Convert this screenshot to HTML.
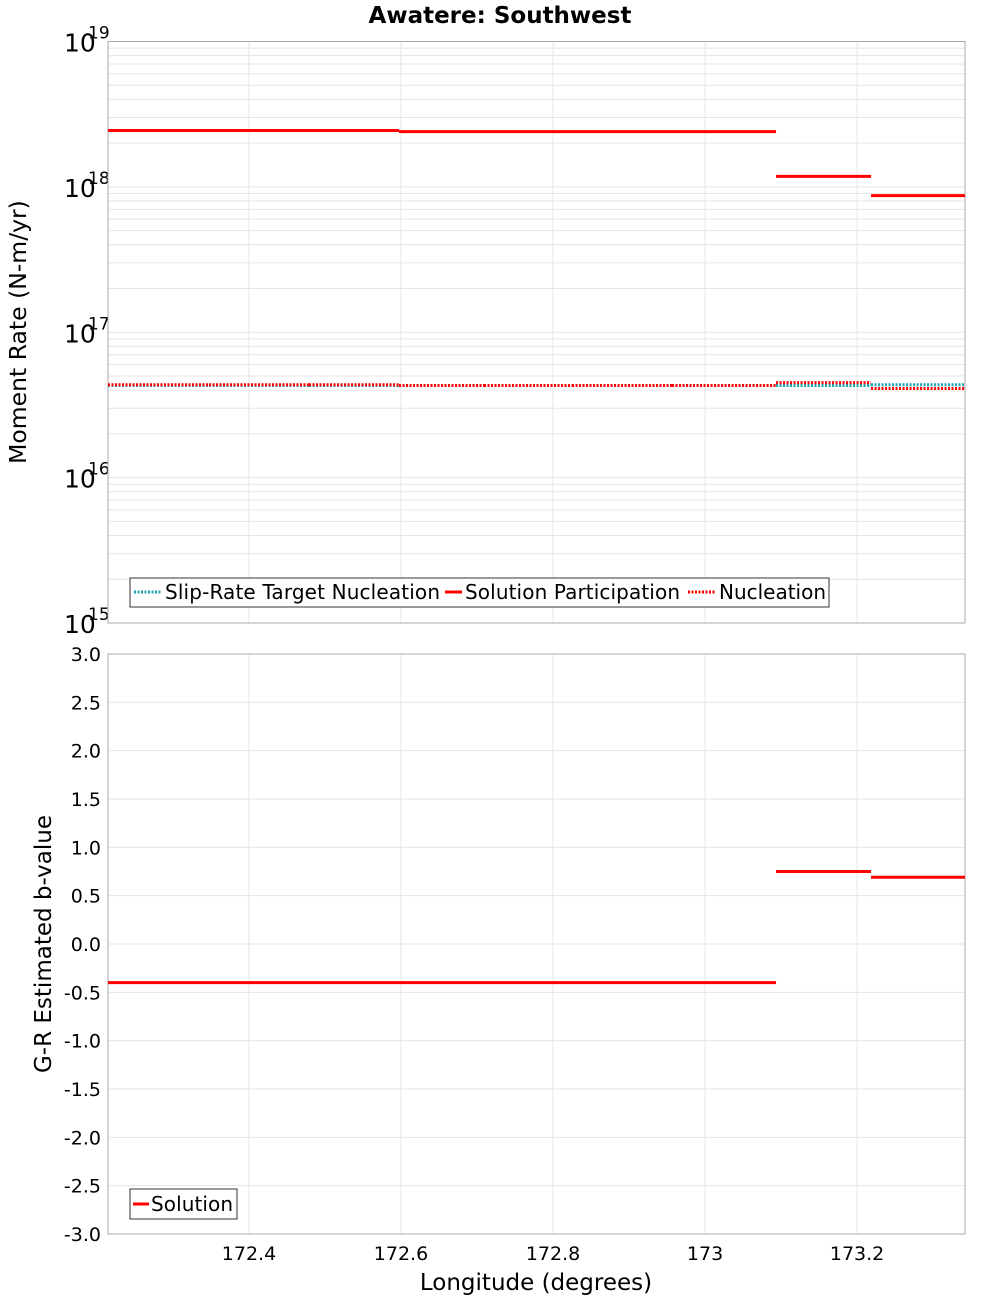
<!DOCTYPE html>
<html><head><meta charset="utf-8"><style>
body{margin:0;background:#fff;font-family:"Liberation Sans","DejaVu Sans",sans-serif}
svg text{font-family:"DejaVu Sans","Liberation Sans",sans-serif}
</style></head><body>
<svg id="c" width="1000" height="1300" xmlns="http://www.w3.org/2000/svg"></svg>
<script>
const bounds=[172.2145,172.3474,172.479,172.5974,172.7092,172.825,172.9566,173.0934,173.2184,173.342];
const participation=[2.44e18,2.44e18,2.44e18,2.4e18,2.4e18,2.4e18,2.4e18,1.18e18,8.7e17];
const nucleation=[4.35e16,4.35e16,4.35e16,4.3e16,4.3e16,4.3e16,4.3e16,4.5e16,4.1e16];
const target=[4.3e16,4.3e16,4.3e16,4.3e16,4.3e16,4.3e16,4.3e16,4.3e16,4.35e16];
const bvals=[-0.4,-0.4,-0.4,-0.4,-0.4,-0.4,-0.4,0.75,0.69];
const xTicks=[172.4,172.6,172.8,173,173.2];
const xTickLabels=["172.4","172.6","172.8","173","173.2"];
const logTicks=[15,16,17,18,19];
const bTicks=[-3,-2.5,-2,-1.5,-1,-0.5,0,0.5,1,1.5,2,2.5,3];

const NS="http://www.w3.org/2000/svg";
const svg=document.getElementById('c');
const L=108,R=965,T1=41.5,B1=623,T2=654,B2=1234;
const xs=v=>L+(v-172.2145)/(173.342-172.2145)*(R-L);
const ys1=v=>B1-(Math.log10(v)-15)/4*(B1-T1);
const ys2=v=>B2-(v+3)/6*(B2-T2);
function el(tag,a,name,txt){const e=document.createElementNS(NS,tag);for(const k in a)e.setAttribute(k,a[k]);


if(txt!==undefined)e.textContent=txt;svg.appendChild(e);return e;}

el('text',{x:500,y:23,'text-anchor':'middle','font-size':23,'font-weight':'bold'},'chart-title','Awatere: Southwest');
for(let d=15;d<19;d++)for(let m=1;m<=9;m++){const y=ys1(m*Math.pow(10,d));el('line',{x1:L,x2:R,y1:y,y2:y,stroke:'#e6e6e6','stroke-width':1},'y-gridline');}
for(const t of xTicks){el('line',{x1:xs(t),x2:xs(t),y1:T1,y2:B1,stroke:'#e6e6e6'},'x-gridline');el('line',{x1:xs(t),x2:xs(t),y1:T2,y2:B2,stroke:'#e6e6e6'},'x-gridline');}
for(const t of bTicks){el('line',{x1:L,x2:R,y1:ys2(t),y2:ys2(t),stroke:'#e6e6e6'},'y-gridline');
el('text',{x:101,y:ys2(t)+7,'text-anchor':'end','font-size':19},'y-tick-label',t.toFixed(1));}
for(const t of logTicks){const y=ys1(Math.pow(10,t));
el('text',{x:64,y:y+10,'font-size':25},'y-tick-label','10');
el('text',{x:88,y:y-3,'font-size':17},'y-tick-exponent',String(t));}
el('rect',{x:L,y:T1,width:R-L,height:B1-T1,fill:'none',stroke:'#aaa'},'plot-area-top');
el('rect',{x:L,y:T2,width:R-L,height:B2-T2,fill:'none',stroke:'#aaa'},'plot-area-bottom');
function steps(vals,ys,col,dash,name,w){let d='';for(let i=0;i<vals.length;i++){d+='M'+xs(bounds[i])+','+ys(vals[i])+'L'+xs(bounds[i+1])+','+ys(vals[i]);}
const a={d:d,fill:'none',stroke:col,'stroke-width':w||3};if(dash)a['stroke-dasharray']=dash;el('path',a,name);}
steps(target,ys1,'#1aa3b0','2,1.5','series-slip-rate-target');
steps(nucleation,ys1,'#f00','2,1.5','series-nucleation');
steps(participation,ys1,'#f00',null,'series-solution-participation');
steps(bvals,ys2,'#f00',null,'series-b-value');
for(let i=0;i<xTicks.length;i++)el('text',{x:xs(xTicks[i]),y:1260,'text-anchor':'middle','font-size':19},'x-tick-label',xTickLabels[i]);
el('text',{x:536,y:1290,'text-anchor':'middle','font-size':23},'x-axis-title','Longitude (degrees)');
el('text',{x:26,y:332,'text-anchor':'middle','font-size':23.5,transform:'rotate(-90 26 332)'},'y-axis-title-top','Moment Rate (N-m/yr)');
el('text',{x:51,y:944,'text-anchor':'middle','font-size':23,transform:'rotate(-90 51 944)'},'y-axis-title-bottom','G-R Estimated b-value');
el('rect',{x:130,y:578,width:699,height:29,fill:'#fff',stroke:'#333'},'legend-top');
el('line',{x1:134,x2:161,y1:592,y2:592,stroke:'#1aa3b0','stroke-width':3,'stroke-dasharray':'2,1.5'},'legend-swatch-target');
el('text',{x:165,y:599,'font-size':20,textLength:275},'legend-entry-target','Slip-Rate Target Nucleation');
el('line',{x1:445,x2:462,y1:592,y2:592,stroke:'#f00','stroke-width':3},'legend-swatch-participation');
el('text',{x:465,y:599,'font-size':20,textLength:215},'legend-entry-participation','Solution Participation');
el('line',{x1:688,x2:716,y1:592,y2:592,stroke:'#f00','stroke-width':3,'stroke-dasharray':'2,1.5'},'legend-swatch-nucleation');
el('text',{x:719,y:599,'font-size':20,textLength:107},'legend-entry-nucleation','Nucleation');
el('rect',{x:130,y:1189,width:107,height:30,fill:'#fff',stroke:'#333'},'legend-bottom');
el('line',{x1:133,x2:149,y1:1204,y2:1204,stroke:'#f00','stroke-width':3},'legend-swatch-solution');
el('text',{x:151,y:1211,'font-size':20,textLength:82},'legend-entry-solution','Solution');
</script>
</body></html>
